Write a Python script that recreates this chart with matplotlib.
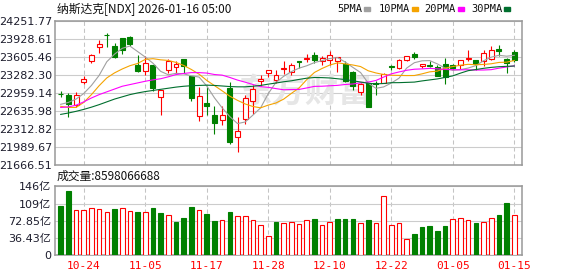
import numpy as np
import pandas as pd
import matplotlib
matplotlib.use("Agg")
import matplotlib.pyplot as plt
from matplotlib.patches import Rectangle

# daily candles, NDX
opens = [22950, 22929, 22750, 23151, 23540, 23779, 24000, 23803, 23947, 23958,
         23468, 23360, 23468, 22893, 23366, 23420, 23570, 23258, 22552, 22780,
         22558, 22469, 23049, 22163, 22492, 22810, 23169, 23318, 23187, 23396,
         23330, 23528, 23564, 23635, 23528, 23546, 23528, 23480, 23336, 22977,
         23139, 23139, 23139, 23438, 23408, 23558, 23665, 23438, 23462, 23420,
         23480, 23456, 23456, 23564, 23558, 23528, 23576, 23755, 23570, 23695]
highs = [23001, 22959, 22977, 23258, 23659, 23911, 24036, 23863, 23950, 23982,
         23647, 23630, 23470, 23010, 23570, 23528, 23575, 23260, 23061, 23061,
         22720, 22720, 23157, 22522, 22917, 23109, 23276, 23366, 23366, 23528,
         23498, 23530, 23659, 23689, 23630, 23707, 23600, 23540, 23360, 23139,
         23139, 23169, 23318, 23468, 23576, 23618, 23689, 23480, 23528, 23456,
         23588, 23480, 23546, 23725, 23558, 23725, 23797, 23815, 23588, 23725]
lows = [22893, 22522, 22702, 23127, 23504, 23683, 23779, 23587, 23659, 23803,
        23340, 23288, 23001, 22570, 23318, 23318, 23318, 22810, 22450, 22570,
        22223, 22390, 22043, 21900, 22403, 22582, 23079, 23240, 23139, 23300,
        23288, 23408, 23510, 23498, 23468, 23468, 23330, 23157, 23019, 22929,
        22702, 22917, 23139, 23378, 23396, 23528, 23576, 23408, 23432, 23258,
        23127, 23378, 23396, 23528, 23378, 23438, 23558, 23618, 23318, 23510]
closes = [22941, 22762, 22929, 23210, 23635, 23839, 23994, 23600, 23737, 23839,
          23348, 23498, 23049, 23007, 23528, 23480, 23450, 22869, 22899, 22720,
          22420, 22558, 22079, 22271, 22869, 23031, 23210, 23366, 23276, 23408,
          23456, 23521, 23581, 23558, 23588, 23647, 23600, 23180, 23079, 23127,
          22702, 23127, 23306, 23426, 23558, 23618, 23605, 23480, 23444, 23258,
          23240, 23408, 23546, 23581, 23480, 23677, 23725, 23718, 23498, 23558]

# volume in 亿
volumes = [104.9, 136.6, 95.7, 95.7, 100.0, 97.8, 92.2, 98.5, 100.0, 93.6,
           92.2, 91.5, 100.0, 90.1, 85.2, 71.1, 78.8, 102.0, 95.7, 88.0,
           73.2, 74.6, 92.2, 83.0, 83.0, 74.6, 64.0, 40.8, 71.1, 68.3,
           70.4, 66.2, 73.9, 76.7, 64.1, 70.4, 76.7, 76.7, 76.7, 68.3,
           74.6, 68.3, 125.3, 64.1, 68.3, 34.5, 45.1, 59.8, 61.9, 51.4,
           61.9, 76.0, 78.8, 74.6, 68.3, 70.4, 78.8, 85.2, 111.2, 85.98]

ma5 = [22756, 22790, 22850, 22950, 23095, 23275, 23521, 23656, 23761, 23802,
       23704, 23604, 23494, 23348, 23286, 23312, 23303, 23267, 23245, 23084,
       22872, 22693, 22535, 22410, 22439, 22562, 22692, 22949, 23150, 23258,
       23343, 23405, 23448, 23505, 23541, 23579, 23595, 23515, 23419, 23327,
       23138, 23043, 23068, 23138, 23224, 23407, 23503, 23537, 23541, 23481,
       23405, 23366, 23379, 23407, 23451, 23538, 23602, 23636, 23620, 23635]
ma10 = [22720, 22700, 22700, 22790, 22930, 23090, 23230, 23320, 23390, 23449,
        23489, 23563, 23575, 23555, 23544, 23508, 23454, 23381, 23297, 23185,
        23092, 22998, 22901, 22827, 22762, 22717, 22693, 22742, 22780, 22849,
        22952, 23049, 23199, 23328, 23400, 23461, 23500, 23482, 23462, 23434,
        23358, 23319, 23291, 23278, 23275, 23272, 23273, 23303, 23339, 23352,
        23406, 23434, 23458, 23474, 23466, 23472, 23484, 23508, 23513, 23543]
ma20 = [22700, 22710, 22740, 22800, 22870, 22930, 22980, 23030, 23080, 23110,
        23140, 23170, 23195, 23215, 23250, 23290, 23310, 23325, 23325, 23317,
        23291, 23280, 23238, 23191, 23153, 23112, 23073, 23061, 23038, 23017,
        23022, 23023, 23050, 23078, 23081, 23089, 23096, 23112, 23121, 23141,
        23155, 23184, 23245, 23303, 23337, 23367, 23386, 23392, 23401, 23393,
        23382, 23377, 23375, 23376, 23371, 23372, 23378, 23405, 23426, 23448]
ma30 = [22575, 22600, 22630, 22665, 22705, 22750, 22800, 22850, 22890, 22930,
        22960, 22985, 23005, 23025, 23045, 23065, 23080, 23090, 23095, 23100,
        23095, 23085, 23075, 23070, 23070, 23080, 23095, 23118, 23138, 23161,
        23178, 23203, 23225, 23237, 23235, 23229, 23215, 23201, 23180, 23156,
        23134, 23122, 23130, 23144, 23145, 23150, 23155, 23176, 23194, 23212,
        23239, 23267, 23316, 23360, 23380, 23402, 23419, 23431, 23438, 23443]

price_ticks = ["24251.77", "23928.61", "23605.46", "23282.30", "22959.14",
               "22635.98", "22312.82", "21989.67", "21666.51"]
vol_ticks = [0, 36.43, 72.85, 109.28, 145.7]
vol_tick_labels = ["0", "36.43亿", "72.85亿", "109亿", "146亿"]

dates = pd.bdate_range("2025-10-21", "2026-01-15", freq="C",
                       holidays=["2025-11-27", "2025-12-25", "2026-01-01"])

RED = "#ff0000"
GREEN = "#008000"
CJK = ["Noto Sans CJK SC", "DejaVu Sans"]

o = np.array(opens, float)
h = np.array(highs, float)
l = np.array(lows, float)
c = np.array(closes, float)
v = np.array(volumes, float)
x = np.arange(len(c))

up = c > o
candle_col = np.where(up, RED, GREEN)
prev = np.r_[o[0], c[:-1]]
vol_col = np.where(c > prev, RED, GREEN)

W, H = 578, 276
fig = plt.figure(figsize=(W / 100, H / 100), dpi=100)


def box(left, top, right, bottom):
    return [left / W, 1 - bottom / H, (right - left) / W, (bottom - top) / H]


ax = fig.add_axes(box(55, 21, 522, 165))
axv = fig.add_axes(box(55, 186.3, 522, 255.3))

tick_pos = x[3::8]
for a in (ax, axv):
    a.set_xlim(-0.74, len(c))
    a.set_xticks(tick_pos)
    a.grid(axis="y", color="#cccccc", lw=0.8, ls="-", zorder=0)
    a.grid(axis="x", color="#c4c4c4", lw=0.75, ls=(0, (4, 2.7)), zorder=0)
    a.set_axisbelow(True)
    for s in a.spines.values():
        s.set_color("#999999")
        s.set_linewidth(1.1)
    a.tick_params(length=0)

# watermark, placed in axes fraction
ax.text(0.535, 0.5, "东方财富", transform=ax.transAxes, ha="center", va="center",
        fontsize=24, fontweight="bold", color="#e6e6e6", family=CJK, zorder=1)

# candles
ax.vlines(x, l, h, colors=candle_col, lw=0.8, zorder=3)
body = np.maximum(np.abs(c - o), 4)
ax.bar(x, body, bottom=np.minimum(o, c), width=0.64,
       color=np.where(up, "white", GREEN), edgecolor=candle_col, lw=0.8, zorder=4)

ax.plot(x, ma5, color="#a0a0a0", lw=0.8, zorder=5)
ax.plot(x, ma10, color="#f5a300", lw=0.8, zorder=5)
ax.plot(x, ma20, color="#ff00ff", lw=0.8, zorder=5)
ax.plot(x, ma30, color="#006f2e", lw=0.8, zorder=5)

ax.set_ylim(float(price_ticks[-1]), float(price_ticks[0]))
ax.set_yticks([float(t) for t in price_ticks])
ax.set_yticklabels(price_ticks, fontsize=8, color="#1c1c2c")
ax.tick_params(axis="y", pad=2)
ax.set_xticklabels([])

# volume
axv.bar(x, v, width=0.6, color=np.where(vol_col == RED, "white", GREEN),
        edgecolor=vol_col, lw=0.8, zorder=3)
axv.set_ylim(0, vol_ticks[-1])
axv.set_yticks(vol_ticks)
axv.set_yticklabels(vol_tick_labels, fontsize=8, color="#1c1c2c",
                    family=["DejaVu Sans", "Noto Sans CJK SC"])
axv.tick_params(axis="y", pad=2.5)
axv.set_xticklabels(dates[3::8].strftime("%m-%d"), fontsize=8, color=RED,
                    family="DejaVu Sans Mono")
axv.tick_params(axis="x", pad=4)

# header texts
fig.text(57 / W, 1 - 9 / H, "纳斯达克[NDX] 2026-01-16 05:00", fontsize=8.5,
         family=CJK, va="center", ha="left", color="#111111")
fig.text(57 / W, 1 - 176.5 / H, "成交量:8598066688", fontsize=8.5,
         family=CJK, va="center", ha="left", color="#111111")

legend = [("5PMA", "#a0a0a0", 337.6, 364), ("10PMA", "#f5a300", 378.9, 412),
          ("20PMA", "#ff00ff", 424, 458), ("30PMA", "#006f2e", 471, 504)]
for name, col, tx, sx in legend:
    fig.text(tx / W, 1 - 9 / H, name, fontsize=7.5, family="DejaVu Sans Mono",
             va="center", ha="left", color="#111111")
    fig.patches.append(Rectangle((sx / W, 1 - 11 / H), 6 / W, 4 / H,
                                 transform=fig.transFigure, color=col, figure=fig))

fig.savefig("out.png", dpi=100)
